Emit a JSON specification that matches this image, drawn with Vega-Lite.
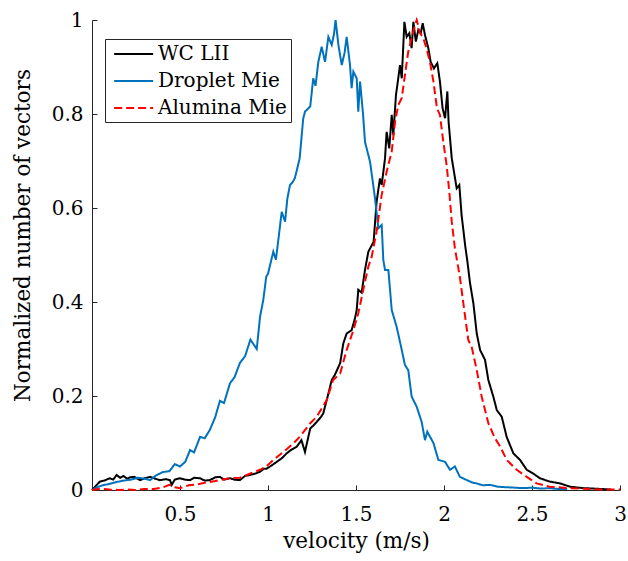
{
  "$schema": "https://vega.github.io/schema/vega-lite/v6.json",
  "width": 528,
  "height": 470,
  "autosize": {"type": "none"},
  "padding": {"left": 92, "top": 20, "right": 8, "bottom": 71},
  "background": "white",
  "config": {
    "font": "DejaVu Serif",
    "view": {"stroke": null},
    "axis": {
      "grid": false,
      "domainColor": "#262626",
      "tickColor": "#262626",
      "labelColor": "#000000",
      "titleColor": "#000000",
      "labelFontSize": 20,
      "titleFontSize": 21.5,
      "titleFontWeight": "normal",
      "tickSize": -5,
      "domainWidth": 1,
      "tickWidth": 1
    }
  },
  "data": {"values": [
    {"s":"WC LII","v":0.0,"y":0.0},{"s":"WC LII","v":0.02,"y":0.008},{"s":"WC LII","v":0.045,"y":0.018},{"s":"WC LII","v":0.07,"y":0.02},{"s":"WC LII","v":0.1,"y":0.025},{"s":"WC LII","v":0.12,"y":0.022},{"s":"WC LII","v":0.14,"y":0.032},{"s":"WC LII","v":0.16,"y":0.026},{"s":"WC LII","v":0.178,"y":0.03},{"s":"WC LII","v":0.2,"y":0.024},{"s":"WC LII","v":0.216,"y":0.027},{"s":"WC LII","v":0.24,"y":0.028},{"s":"WC LII","v":0.273,"y":0.021},{"s":"WC LII","v":0.3,"y":0.025},{"s":"WC LII","v":0.33,"y":0.028},{"s":"WC LII","v":0.36,"y":0.024},{"s":"WC LII","v":0.386,"y":0.021},{"s":"WC LII","v":0.42,"y":0.023},{"s":"WC LII","v":0.443,"y":0.021},{"s":"WC LII","v":0.453,"y":0.011},{"s":"WC LII","v":0.47,"y":0.022},{"s":"WC LII","v":0.5,"y":0.025},{"s":"WC LII","v":0.53,"y":0.022},{"s":"WC LII","v":0.557,"y":0.021},{"s":"WC LII","v":0.58,"y":0.026},{"s":"WC LII","v":0.614,"y":0.025},{"s":"WC LII","v":0.64,"y":0.02},{"s":"WC LII","v":0.67,"y":0.021},{"s":"WC LII","v":0.7,"y":0.027},{"s":"WC LII","v":0.727,"y":0.028},{"s":"WC LII","v":0.75,"y":0.022},{"s":"WC LII","v":0.784,"y":0.025},{"s":"WC LII","v":0.81,"y":0.022},{"s":"WC LII","v":0.84,"y":0.021},{"s":"WC LII","v":0.87,"y":0.03},{"s":"WC LII","v":0.898,"y":0.032},{"s":"WC LII","v":0.93,"y":0.035},{"s":"WC LII","v":0.955,"y":0.039},{"s":"WC LII","v":0.975,"y":0.045},{"s":"WC LII","v":0.99,"y":0.045},{"s":"WC LII","v":1.02,"y":0.052},{"s":"WC LII","v":1.05,"y":0.06},{"s":"WC LII","v":1.08,"y":0.068},{"s":"WC LII","v":1.106,"y":0.078},{"s":"WC LII","v":1.13,"y":0.085},{"s":"WC LII","v":1.163,"y":0.092},{"s":"WC LII","v":1.19,"y":0.106},{"s":"WC LII","v":1.21,"y":0.081},{"s":"WC LII","v":1.24,"y":0.131},{"s":"WC LII","v":1.26,"y":0.138},{"s":"WC LII","v":1.277,"y":0.145},{"s":"WC LII","v":1.3,"y":0.155},{"s":"WC LII","v":1.314,"y":0.163},{"s":"WC LII","v":1.343,"y":0.205},{"s":"WC LII","v":1.362,"y":0.234},{"s":"WC LII","v":1.38,"y":0.245},{"s":"WC LII","v":1.41,"y":0.27},{"s":"WC LII","v":1.428,"y":0.312},{"s":"WC LII","v":1.447,"y":0.333},{"s":"WC LII","v":1.475,"y":0.34},{"s":"WC LII","v":1.494,"y":0.365},{"s":"WC LII","v":1.504,"y":0.383},{"s":"WC LII","v":1.513,"y":0.426},{"s":"WC LII","v":1.532,"y":0.42},{"s":"WC LII","v":1.551,"y":0.468},{"s":"WC LII","v":1.57,"y":0.507},{"s":"WC LII","v":1.59,"y":0.521},{"s":"WC LII","v":1.6,"y":0.528},{"s":"WC LII","v":1.617,"y":0.613},{"s":"WC LII","v":1.636,"y":0.663},{"s":"WC LII","v":1.646,"y":0.649},{"s":"WC LII","v":1.665,"y":0.706},{"s":"WC LII","v":1.674,"y":0.762},{"s":"WC LII","v":1.689,"y":0.727},{"s":"WC LII","v":1.703,"y":0.798},{"s":"WC LII","v":1.712,"y":0.755},{"s":"WC LII","v":1.727,"y":0.84},{"s":"WC LII","v":1.74,"y":0.876},{"s":"WC LII","v":1.75,"y":0.904},{"s":"WC LII","v":1.76,"y":0.876},{"s":"WC LII","v":1.775,"y":0.996},{"s":"WC LII","v":1.788,"y":0.964},{"s":"WC LII","v":1.803,"y":0.972},{"s":"WC LII","v":1.816,"y":0.94},{"s":"WC LII","v":1.826,"y":0.996},{"s":"WC LII","v":1.84,"y":0.954},{"s":"WC LII","v":1.854,"y":0.979},{"s":"WC LII","v":1.868,"y":0.972},{"s":"WC LII","v":1.879,"y":0.993},{"s":"WC LII","v":1.892,"y":0.968},{"s":"WC LII","v":1.911,"y":0.94},{"s":"WC LII","v":1.924,"y":0.911},{"s":"WC LII","v":1.943,"y":0.897},{"s":"WC LII","v":1.962,"y":0.908},{"s":"WC LII","v":1.977,"y":0.869},{"s":"WC LII","v":1.992,"y":0.812},{"s":"WC LII","v":2.006,"y":0.791},{"s":"WC LII","v":2.019,"y":0.848},{"s":"WC LII","v":2.026,"y":0.784},{"s":"WC LII","v":2.044,"y":0.706},{"s":"WC LII","v":2.072,"y":0.642},{"s":"WC LII","v":2.087,"y":0.649},{"s":"WC LII","v":2.1,"y":0.585},{"s":"WC LII","v":2.12,"y":0.521},{"s":"WC LII","v":2.133,"y":0.486},{"s":"WC LII","v":2.148,"y":0.44},{"s":"WC LII","v":2.167,"y":0.397},{"s":"WC LII","v":2.186,"y":0.333},{"s":"WC LII","v":2.205,"y":0.298},{"s":"WC LII","v":2.233,"y":0.277},{"s":"WC LII","v":2.252,"y":0.234},{"s":"WC LII","v":2.28,"y":0.199},{"s":"WC LII","v":2.3,"y":0.17},{"s":"WC LII","v":2.328,"y":0.156},{"s":"WC LII","v":2.356,"y":0.113},{"s":"WC LII","v":2.394,"y":0.078},{"s":"WC LII","v":2.432,"y":0.064},{"s":"WC LII","v":2.47,"y":0.043},{"s":"WC LII","v":2.507,"y":0.035},{"s":"WC LII","v":2.545,"y":0.025},{"s":"WC LII","v":2.6,"y":0.018},{"s":"WC LII","v":2.66,"y":0.014},{"s":"WC LII","v":2.716,"y":0.007},{"s":"WC LII","v":2.79,"y":0.004},{"s":"WC LII","v":2.85,"y":0.003},{"s":"WC LII","v":2.9,"y":0.002},{"s":"WC LII","v":2.95,"y":0.001},
    {"s":"Droplet Mie","v":0.0,"y":0.0},{"s":"Droplet Mie","v":0.03,"y":0.006},{"s":"Droplet Mie","v":0.06,"y":0.01},{"s":"Droplet Mie","v":0.1,"y":0.013},{"s":"Droplet Mie","v":0.14,"y":0.017},{"s":"Droplet Mie","v":0.18,"y":0.02},{"s":"Droplet Mie","v":0.22,"y":0.022},{"s":"Droplet Mie","v":0.26,"y":0.026},{"s":"Droplet Mie","v":0.3,"y":0.024},{"s":"Droplet Mie","v":0.33,"y":0.021},{"s":"Droplet Mie","v":0.36,"y":0.03},{"s":"Droplet Mie","v":0.4,"y":0.038},{"s":"Droplet Mie","v":0.44,"y":0.04},{"s":"Droplet Mie","v":0.47,"y":0.055},{"s":"Droplet Mie","v":0.5,"y":0.05},{"s":"Droplet Mie","v":0.53,"y":0.06},{"s":"Droplet Mie","v":0.557,"y":0.085},{"s":"Droplet Mie","v":0.58,"y":0.08},{"s":"Droplet Mie","v":0.614,"y":0.113},{"s":"Droplet Mie","v":0.64,"y":0.11},{"s":"Droplet Mie","v":0.67,"y":0.128},{"s":"Droplet Mie","v":0.7,"y":0.155},{"s":"Droplet Mie","v":0.727,"y":0.19},{"s":"Droplet Mie","v":0.75,"y":0.185},{"s":"Droplet Mie","v":0.784,"y":0.227},{"s":"Droplet Mie","v":0.81,"y":0.24},{"s":"Droplet Mie","v":0.84,"y":0.27},{"s":"Droplet Mie","v":0.87,"y":0.285},{"s":"Droplet Mie","v":0.9,"y":0.32},{"s":"Droplet Mie","v":0.936,"y":0.3},{"s":"Droplet Mie","v":0.955,"y":0.369},{"s":"Droplet Mie","v":0.973,"y":0.404},{"s":"Droplet Mie","v":0.99,"y":0.454},{"s":"Droplet Mie","v":1.0,"y":0.46},{"s":"Droplet Mie","v":1.03,"y":0.507},{"s":"Droplet Mie","v":1.045,"y":0.49},{"s":"Droplet Mie","v":1.078,"y":0.592},{"s":"Droplet Mie","v":1.097,"y":0.571},{"s":"Droplet Mie","v":1.11,"y":0.62},{"s":"Droplet Mie","v":1.125,"y":0.649},{"s":"Droplet Mie","v":1.14,"y":0.655},{"s":"Droplet Mie","v":1.153,"y":0.664},{"s":"Droplet Mie","v":1.17,"y":0.69},{"s":"Droplet Mie","v":1.18,"y":0.706},{"s":"Droplet Mie","v":1.2,"y":0.79},{"s":"Droplet Mie","v":1.21,"y":0.805},{"s":"Droplet Mie","v":1.24,"y":0.816},{"s":"Droplet Mie","v":1.257,"y":0.876},{"s":"Droplet Mie","v":1.27,"y":0.86},{"s":"Droplet Mie","v":1.286,"y":0.911},{"s":"Droplet Mie","v":1.305,"y":0.943},{"s":"Droplet Mie","v":1.324,"y":0.911},{"s":"Droplet Mie","v":1.343,"y":0.964},{"s":"Droplet Mie","v":1.362,"y":0.947},{"s":"Droplet Mie","v":1.375,"y":0.97},{"s":"Droplet Mie","v":1.384,"y":1.0},{"s":"Droplet Mie","v":1.4,"y":0.947},{"s":"Droplet Mie","v":1.419,"y":0.904},{"s":"Droplet Mie","v":1.435,"y":0.93},{"s":"Droplet Mie","v":1.447,"y":0.964},{"s":"Droplet Mie","v":1.466,"y":0.904},{"s":"Droplet Mie","v":1.475,"y":0.855},{"s":"Droplet Mie","v":1.485,"y":0.89},{"s":"Droplet Mie","v":1.504,"y":0.876},{"s":"Droplet Mie","v":1.513,"y":0.805},{"s":"Droplet Mie","v":1.523,"y":0.869},{"s":"Droplet Mie","v":1.54,"y":0.8},{"s":"Droplet Mie","v":1.551,"y":0.741},{"s":"Droplet Mie","v":1.58,"y":0.698},{"s":"Droplet Mie","v":1.608,"y":0.621},{"s":"Droplet Mie","v":1.627,"y":0.557},{"s":"Droplet Mie","v":1.646,"y":0.564},{"s":"Droplet Mie","v":1.655,"y":0.49},{"s":"Droplet Mie","v":1.665,"y":0.468},{"s":"Droplet Mie","v":1.684,"y":0.468},{"s":"Droplet Mie","v":1.703,"y":0.383},{"s":"Droplet Mie","v":1.731,"y":0.347},{"s":"Droplet Mie","v":1.76,"y":0.298},{"s":"Droplet Mie","v":1.778,"y":0.266},{"s":"Droplet Mie","v":1.797,"y":0.255},{"s":"Droplet Mie","v":1.816,"y":0.199},{"s":"Droplet Mie","v":1.845,"y":0.177},{"s":"Droplet Mie","v":1.873,"y":0.145},{"s":"Droplet Mie","v":1.892,"y":0.106},{"s":"Droplet Mie","v":1.905,"y":0.124},{"s":"Droplet Mie","v":1.94,"y":0.1},{"s":"Droplet Mie","v":1.968,"y":0.064},{"s":"Droplet Mie","v":2.006,"y":0.06},{"s":"Droplet Mie","v":2.034,"y":0.043},{"s":"Droplet Mie","v":2.062,"y":0.05},{"s":"Droplet Mie","v":2.09,"y":0.028},{"s":"Droplet Mie","v":2.13,"y":0.021},{"s":"Droplet Mie","v":2.16,"y":0.016},{"s":"Droplet Mie","v":2.186,"y":0.014},{"s":"Droplet Mie","v":2.22,"y":0.01},{"s":"Droplet Mie","v":2.26,"y":0.011},{"s":"Droplet Mie","v":2.307,"y":0.007},{"s":"Droplet Mie","v":2.35,"y":0.006},{"s":"Droplet Mie","v":2.4,"y":0.005},{"s":"Droplet Mie","v":2.45,"y":0.004},{"s":"Droplet Mie","v":2.5,"y":0.005},{"s":"Droplet Mie","v":2.55,"y":0.003},{"s":"Droplet Mie","v":2.6,"y":0.004},{"s":"Droplet Mie","v":2.65,"y":0.002},{"s":"Droplet Mie","v":2.7,"y":0.002},
    {"s":"Alumina Mie","v":0.0,"y":0.0},{"s":"Alumina Mie","v":0.05,"y":0.003},{"s":"Alumina Mie","v":0.1,"y":0.001},{"s":"Alumina Mie","v":0.15,"y":0.0},{"s":"Alumina Mie","v":0.2,"y":0.001},{"s":"Alumina Mie","v":0.25,"y":0.0},{"s":"Alumina Mie","v":0.3,"y":0.002},{"s":"Alumina Mie","v":0.35,"y":0.002},{"s":"Alumina Mie","v":0.4,"y":0.005},{"s":"Alumina Mie","v":0.44,"y":0.011},{"s":"Alumina Mie","v":0.47,"y":0.006},{"s":"Alumina Mie","v":0.5,"y":0.004},{"s":"Alumina Mie","v":0.55,"y":0.01},{"s":"Alumina Mie","v":0.6,"y":0.012},{"s":"Alumina Mie","v":0.65,"y":0.016},{"s":"Alumina Mie","v":0.7,"y":0.019},{"s":"Alumina Mie","v":0.727,"y":0.021},{"s":"Alumina Mie","v":0.784,"y":0.025},{"s":"Alumina Mie","v":0.84,"y":0.026},{"s":"Alumina Mie","v":0.9,"y":0.035},{"s":"Alumina Mie","v":0.955,"y":0.043},{"s":"Alumina Mie","v":0.99,"y":0.05},{"s":"Alumina Mie","v":1.03,"y":0.064},{"s":"Alumina Mie","v":1.087,"y":0.081},{"s":"Alumina Mie","v":1.144,"y":0.099},{"s":"Alumina Mie","v":1.18,"y":0.113},{"s":"Alumina Mie","v":1.24,"y":0.142},{"s":"Alumina Mie","v":1.277,"y":0.156},{"s":"Alumina Mie","v":1.333,"y":0.191},{"s":"Alumina Mie","v":1.37,"y":0.234},{"s":"Alumina Mie","v":1.41,"y":0.248},{"s":"Alumina Mie","v":1.447,"y":0.298},{"s":"Alumina Mie","v":1.485,"y":0.34},{"s":"Alumina Mie","v":1.513,"y":0.376},{"s":"Alumina Mie","v":1.541,"y":0.426},{"s":"Alumina Mie","v":1.57,"y":0.475},{"s":"Alumina Mie","v":1.589,"y":0.496},{"s":"Alumina Mie","v":1.617,"y":0.55},{"s":"Alumina Mie","v":1.646,"y":0.628},{"s":"Alumina Mie","v":1.674,"y":0.677},{"s":"Alumina Mie","v":1.703,"y":0.72},{"s":"Alumina Mie","v":1.722,"y":0.784},{"s":"Alumina Mie","v":1.74,"y":0.819},{"s":"Alumina Mie","v":1.76,"y":0.834},{"s":"Alumina Mie","v":1.778,"y":0.883},{"s":"Alumina Mie","v":1.797,"y":0.933},{"s":"Alumina Mie","v":1.816,"y":0.961},{"s":"Alumina Mie","v":1.835,"y":0.989},{"s":"Alumina Mie","v":1.845,"y":1.0},{"s":"Alumina Mie","v":1.864,"y":0.972},{"s":"Alumina Mie","v":1.883,"y":0.961},{"s":"Alumina Mie","v":1.9,"y":0.94},{"s":"Alumina Mie","v":1.92,"y":0.911},{"s":"Alumina Mie","v":1.94,"y":0.869},{"s":"Alumina Mie","v":1.96,"y":0.812},{"s":"Alumina Mie","v":1.977,"y":0.798},{"s":"Alumina Mie","v":1.996,"y":0.741},{"s":"Alumina Mie","v":2.015,"y":0.691},{"s":"Alumina Mie","v":2.03,"y":0.635},{"s":"Alumina Mie","v":2.044,"y":0.571},{"s":"Alumina Mie","v":2.062,"y":0.514},{"s":"Alumina Mie","v":2.09,"y":0.454},{"s":"Alumina Mie","v":2.11,"y":0.397},{"s":"Alumina Mie","v":2.138,"y":0.319},{"s":"Alumina Mie","v":2.157,"y":0.305},{"s":"Alumina Mie","v":2.186,"y":0.255},{"s":"Alumina Mie","v":2.214,"y":0.199},{"s":"Alumina Mie","v":2.252,"y":0.142},{"s":"Alumina Mie","v":2.29,"y":0.11},{"s":"Alumina Mie","v":2.32,"y":0.092},{"s":"Alumina Mie","v":2.356,"y":0.064},{"s":"Alumina Mie","v":2.413,"y":0.043},{"s":"Alumina Mie","v":2.47,"y":0.028},{"s":"Alumina Mie","v":2.526,"y":0.014},{"s":"Alumina Mie","v":2.6,"y":0.007},{"s":"Alumina Mie","v":2.716,"y":0.004},{"s":"Alumina Mie","v":2.83,"y":0.002},{"s":"Alumina Mie","v":2.92,"y":0.001},{"s":"Alumina Mie","v":3.0,"y":0.001}
  ]},
  "mark": {"type": "line", "strokeWidth": 2, "interpolate": "linear"},
  "encoding": {
    "x": {
      "field": "v", "type": "quantitative",
      "scale": {"domain": [0, 3], "nice": false},
      "axis": {"title": "velocity (m/s)", "values": [0.5, 1, 1.5, 2, 2.5, 3], "format": ".1~f", "labelPadding": 19, "titlePadding": 6, "labelFlush": false}
    },
    "y": {
      "field": "y", "type": "quantitative",
      "scale": {"domain": [0, 1], "nice": false},
      "axis": {"title": "Normalized number of vectors", "values": [0, 0.2, 0.4, 0.6, 0.8, 1], "format": ".1~f", "labelPadding": 14, "titlePadding": 17, "titleY": 215, "labelFlush": false}
    },
    "color": {
      "field": "s", "type": "nominal", "title": null,
      "scale": {"domain": ["WC LII", "Droplet Mie", "Alumina Mie"], "range": ["#000000", "#0072BD", "#FF0000"]},
      "legend": {
        "orient": "none", "legendX": 13, "legendY": 19,
        "strokeColor": "#262626", "fillColor": "white", "padding": 4,
        "labelFontSize": 20, "labelColor": "#000000", "labelLimit": 300,
        "symbolType": "M-0.6,0H3.4", "symbolSize": 380, "symbolStrokeWidth": 2,
        "rowPadding": 6, "labelOffset": 27
      }
    },
    "strokeDash": {
      "field": "s", "type": "nominal", "title": null,
      "scale": {"domain": ["WC LII", "Droplet Mie", "Alumina Mie"], "range": [[1, 0], [1, 0], [8, 4]]}
    },
    "order": {"field": "v", "type": "quantitative"}
  }
}
